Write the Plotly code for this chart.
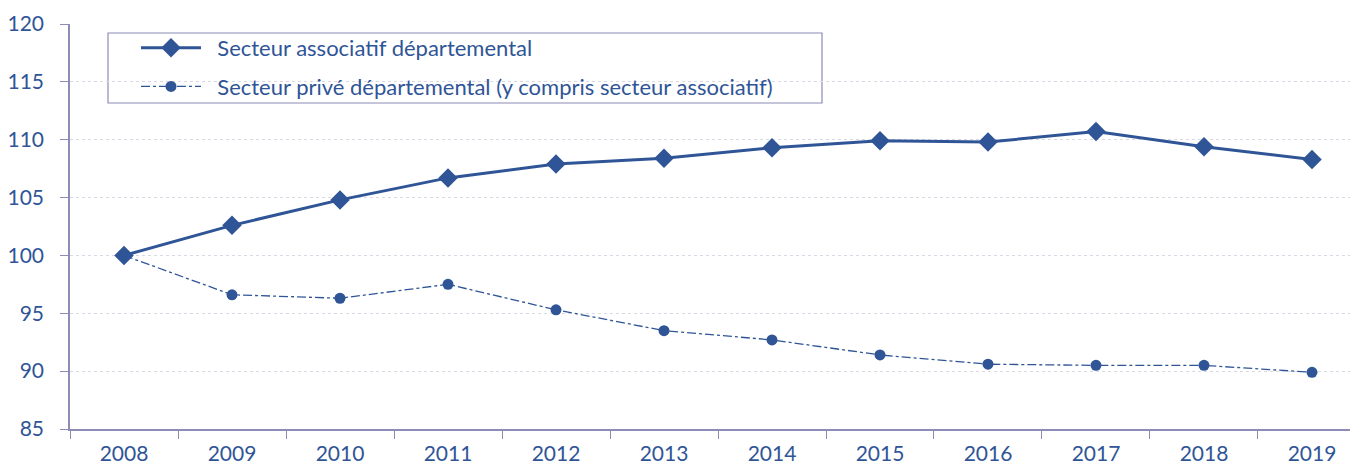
import plotly.graph_objects as go

years = ["2008", "2009", "2010", "2011", "2012", "2013", "2014", "2015", "2016", "2017", "2018", "2019"]
associatif = [100, 102.6, 104.8, 106.7, 107.9, 108.4, 109.3, 109.9, 109.8, 110.7, 109.4, 108.3]
prive = [100, 96.6, 96.3, 97.5, 95.3, 93.5, 92.7, 91.4, 90.6, 90.5, 90.5, 89.9]
name_assoc = "Secteur associatif départemental"
name_prive = "Secteur privé départemental (y compris secteur associatif)"

blue = "#2F5597"
axis_col = "#8C8CB4"
font_family = "Lato, Carlito, Calibri, sans-serif"

# page body has an 8px margin: figure sized to fill the window from (8,8)
W, H = 1350, 460
ml, mt, mb = 62, 16, 39
pw = W - ml
ph = H - mt - mb

def px2paper_x(x):
    return (x - 8 - ml) / pw

def px2paper_y(y):
    return 1 - (y - 8 - mt) / ph

pad = "\u00a0\u00a0"

fig = go.Figure()
fig.add_trace(go.Scatter(
    x=years, y=associatif, name=pad + name_assoc, mode="lines+markers",
    line=dict(color=blue, width=3),
    marker=dict(symbol="diamond", size=15, color=blue),
    legendgroup="a",
))
fig.add_trace(go.Scatter(
    x=years, y=prive, name=pad + name_prive, mode="lines+markers",
    line=dict(color=blue, width=1.3, dash="dashdot"),
    marker=dict(symbol="circle", size=11, color=blue),
    legendgroup="b",
))

fig.update_layout(
    width=W, height=H,
    margin=dict(l=ml, r=0, t=mt, b=mb),
    paper_bgcolor="white", plot_bgcolor="white",
    font=dict(family=font_family, size=22, color=blue),
    showlegend=True,
    legend=dict(
        x=px2paper_x(136), y=px2paper_y(27), xanchor="left", yanchor="top",
        bgcolor="rgba(0,0,0,0)", borderwidth=0,
        font=dict(size=22, color=blue, family=font_family),
        tracegroupgap=7, itemwidth=60,
    ),
    shapes=[dict(
        type="rect", xref="paper", yref="paper",
        x0=px2paper_x(108), x1=px2paper_x(822),
        y0=px2paper_y(103), y1=px2paper_y(33),
        line=dict(color=axis_col, width=1.2), fillcolor="white", layer="below",
    )],
)
fig.update_xaxes(
    type="category", range=[-0.5, 11.426], automargin=False,
    showline=True, linecolor=axis_col, linewidth=1.5,
    ticks="outside", tickson="boundaries", ticklen=8, tickcolor=axis_col,
    showgrid=False, tickfont=dict(size=21, color=blue),
    ticklabelstandoff=5,
)
fig.update_yaxes(
    range=[85, 120], dtick=5, automargin=False,
    showline=True, linecolor=axis_col, linewidth=1.5,
    ticks="outside", ticklen=8, tickcolor=axis_col,
    showgrid=True, gridcolor="#D9D9E6", griddash="dot", gridwidth=1,
    zeroline=False, tickfont=dict(size=21, color=blue),
    ticklabelstandoff=12,
)

fig.write_html("out.html")
